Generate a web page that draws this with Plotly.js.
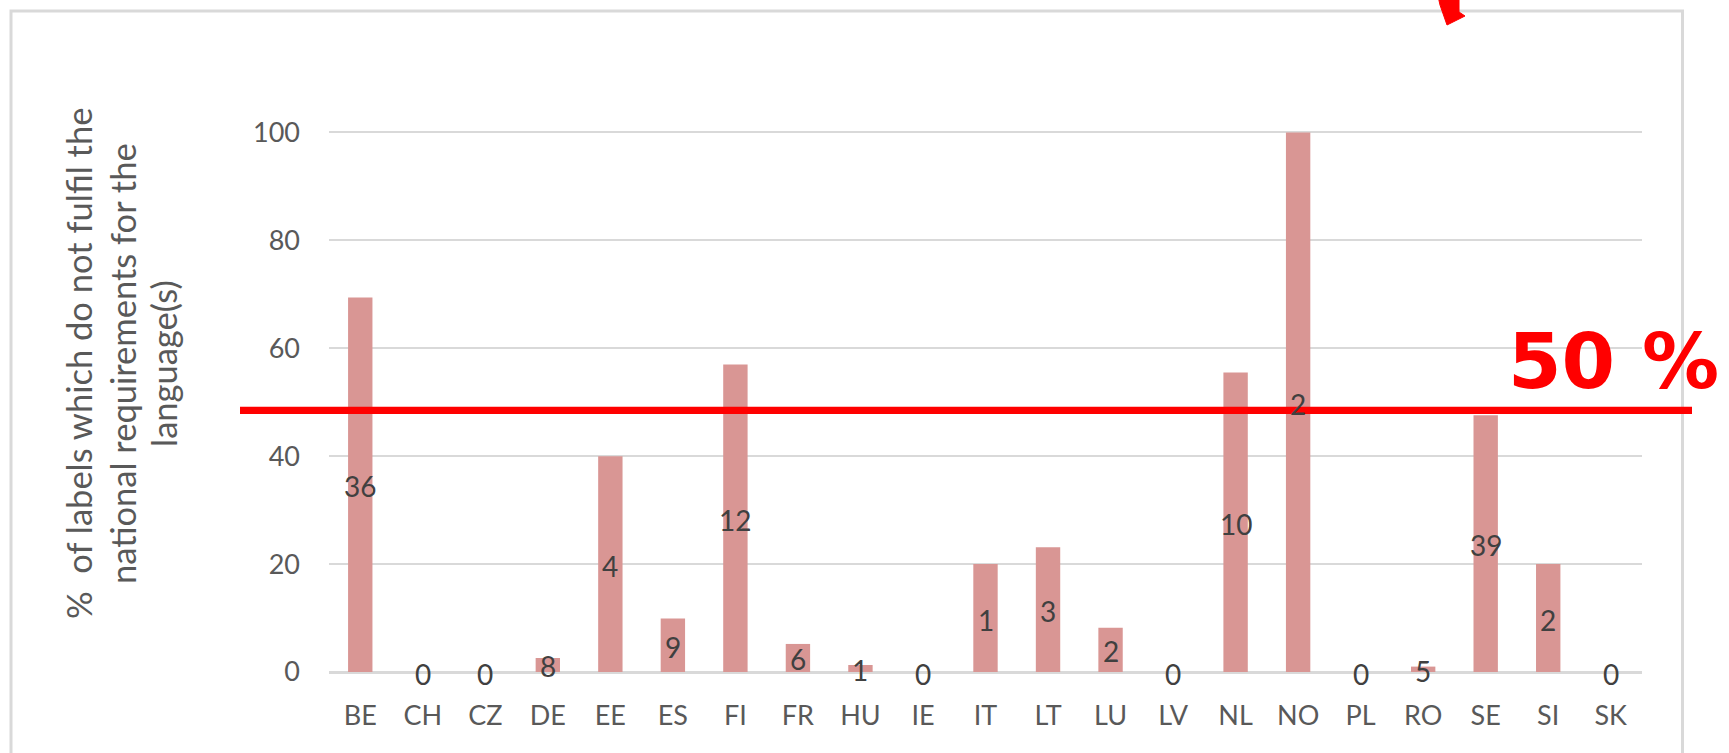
<!DOCTYPE html>
<html><head><meta charset="utf-8">
<script src="https://cdn.plot.ly/plotly-3.0.1.min.js"></script>
<style>html,body{margin:0;padding:0;background:#fff;overflow:hidden}#chart{width:1729px;height:753px}</style>
</head><body><div id="chart"></div>
<script>
const countries = ["BE","CH","CZ","DE","EE","ES","FI","FR","HU","IE","IT","LT","LU","LV","NL","NO","PL","RO","SE","SI","SK"];
const percentNonCompliant = [69.4,0,0,2.6,40,9.9,57,5.2,1.3,0,20,23.1,8.2,0,55.5,100,0,1,47.6,20,0];
const labelCounts = [36,0,0,8,4,9,12,6,1,0,1,3,2,0,10,2,0,5,39,2,0];
const yTickValues = [0,20,40,60,80,100];
const thresholdValue = 48.5;
const thresholdLabel = "50 %";
const yTitleLines = ["%  of labels which do not fulfil the","national requirements for the","language(s)"];

// layout geometry (pixels)
const W = 1729, H = 753;
const M = {l:329, r:87, t:127, b:81};
const PW = W - M.l - M.r, PH = H - M.t - M.b;
const px = x => (x - M.l) / PW;
const py = y => (H - M.b - y) / PH;

const labelFont = "Lato, 'Open Sans', sans-serif";

const bars = {
  type: "bar", x: countries, y: percentNonCompliant,
  marker: {color: "#D99694"}, hoverinfo: "x+y", showlegend: false
};

// data labels centred in each bar (Excel "center" position)
const annotations = countries.map((c, i) => ({
  text: String(labelCounts[i]), xref: "x", yref: "y", x: c, y: percentNonCompliant[i] / 2,
  xanchor: "center", yanchor: "middle", yshift: -1.5, showarrow: false,
  font: {family: labelFont, size: 28, color: "#404040"}
}));

const titleX = [78, 122, 163];
yTitleLines.forEach((t, i) => annotations.push({
  text: t, xref: "paper", yref: "paper", x: px(titleX[i]), y: py(364),
  xanchor: "center", yanchor: "middle", textangle: -90, showarrow: false,
  font: {family: labelFont, size: 34.5, color: "#595959"}
}));
annotations.push({
  text: "<b>" + thresholdLabel + "</b>", xref: "paper", yref: "paper",
  x: px(1506), y: py(361), xanchor: "left", yanchor: "middle", showarrow: false,
  font: {family: "'DejaVu Sans', Verdana, sans-serif", size: 77, color: "#FF0000"}
});

const arrowPts = [[1438,-4],[1459,-4],[1459,12],[1465,16],[1447,25],[1440,5]];
const arrowPath = "M " + arrowPts.map(p => px(p[0]) + "," + py(p[1])).join(" L ") + " Z";

const shapes = [
  {type: "rect", xref: "paper", yref: "paper", x0: px(11), x1: px(1682.5), y0: py(11), y1: py(820),
   line: {color: "#D9D9D9", width: 3}, fillcolor: "rgba(0,0,0,0)", layer: "below"},
  {type: "line", xref: "paper", yref: "y", x0: px(240), x1: px(1692), y0: thresholdValue, y1: thresholdValue,
   line: {color: "#FF0000", width: 7.3}, layer: "above"},
  {type: "path", xref: "paper", yref: "paper", path: arrowPath, fillcolor: "#FF0000",
   line: {color: "#FF0000", width: 1}, layer: "above"}
];

const layout = {
  width: W, height: H, margin: {l: M.l, r: M.r, t: M.t, b: M.b, pad: 0},
  paper_bgcolor: "#fff", plot_bgcolor: "#fff",
  bargap: 0.61, showlegend: false,
  xaxis: {type: "category", range: [-0.5, countries.length - 0.5], showgrid: false, zeroline: false,
    showline: false, ticks: "",
    tickfont: {family: labelFont, size: 27, color: "#595959"}, ticklabelstandoff: 25, fixedrange: true},
  yaxis: {range: [0, 101], tickvals: yTickValues, ticktext: yTickValues.map(String),
    showgrid: true, gridcolor: "#D9D9D9", gridwidth: 2,
    zeroline: true, zerolinecolor: "#D9D9D9", zerolinewidth: 3, showline: false, ticks: "",
    tickfont: {family: labelFont, size: 27, color: "#595959"}, ticklabelstandoff: 28, fixedrange: true},
  annotations: annotations, shapes: shapes
};

Plotly.newPlot("chart", [bars], layout, {staticPlot: true, displayModeBar: false});
</script>
</body></html>
